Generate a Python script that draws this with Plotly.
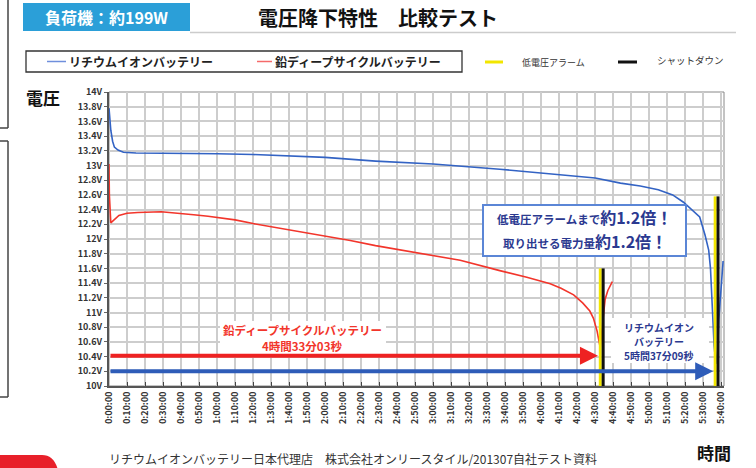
import plotly.graph_objects as go

# ---------------- data ----------------
# Lithium-ion battery voltage (time in minutes, volts)
li_t = [0, 0.5, 1, 2, 3, 5, 8, 15, 30, 60, 80, 100, 120, 148, 180, 217, 240, 260, 270,
        284, 295, 305, 313, 319, 324.5, 328, 331, 333, 334, 335, 336, 337, 338, 338.6,
        339.4, 340.2, 341]
li_v = [13.78, 13.62, 13.48, 13.33, 13.25, 13.21, 13.18, 13.17, 13.17, 13.16, 13.15, 13.13,
        13.11, 13.06, 13.02, 12.95, 12.90, 12.86, 12.83, 12.76, 12.72, 12.67, 12.60, 12.50,
        12.38, 12.30, 12.05, 11.85, 11.60, 11.00, 10.55, 10.30, 10.50, 10.90, 11.15, 11.45, 11.70]

# Lead deep-cycle battery voltage
pb_t = [0, 0.2, 1, 3, 5.5, 10, 16, 29, 40, 47, 55, 62, 70, 80, 92, 106, 120, 134, 148, 162,
        180, 195, 217, 232, 245, 251, 258, 263, 267, 269, 271, 272, 272.8, 274.5, 275.5, 277, 279.5]
pb_v = [13.02, 12.60, 12.22, 12.27, 12.32, 12.35, 12.36, 12.37, 12.35, 12.33, 12.31, 12.29,
        12.26, 12.21, 12.16, 12.10, 12.04, 11.98, 11.91, 11.85, 11.77, 11.71, 11.57, 11.48,
        11.39, 11.33, 11.24, 11.13, 11.02, 10.92, 10.75, 10.62, 10.52, 10.95, 11.18, 11.30, 11.42]

# Low-voltage alarm / shutdown marker times (minutes) and their top voltage
alarm_t = [272.8, 336.6]
shutdown_t = [274.4, 338.2]
marker_top = [11.6, 12.58]

# Run-time arrows (end minute, voltage level)
pb_arrow = (271.5, 10.41)
li_arrow = (335.5, 10.20)

x_tickvals = [0, 10, 20, 30, 40, 50, 60, 70, 80, 90, 100, 110, 120, 130, 140, 150, 160, 170,
              180, 190, 200, 210, 220, 230, 240, 250, 260, 270, 280, 290, 300, 310, 320, 330, 340]
x_ticktext = ["0:00:00", "0:10:00", "0:20:00", "0:30:00", "0:40:00", "0:50:00",
              "1:00:00", "1:10:00", "1:20:00", "1:30:00", "1:40:00", "1:50:00",
              "2:00:00", "2:10:00", "2:20:00", "2:30:00", "2:40:00", "2:50:00",
              "3:00:00", "3:10:00", "3:20:00", "3:30:00", "3:40:00", "3:50:00",
              "4:00:00", "4:10:00", "4:20:00", "4:30:00", "4:40:00", "4:50:00",
              "5:00:00", "5:10:00", "5:20:00", "5:30:00", "5:40:00"]
y_tickvals = [10, 10.2, 10.4, 10.6, 10.8, 11, 11.2, 11.4, 11.6, 11.8, 12, 12.2, 12.4, 12.6,
              12.8, 13, 13.2, 13.4, 13.6, 13.8, 14]
y_ticktext = ["10V", "10.2V", "10.4V", "10.6V", "10.8V", "11V", "11.2V", "11.4V", "11.6V",
              "11.8V", "12V", "12.2V", "12.4V", "12.6V", "12.8V", "13V", "13.2V", "13.4V",
              "13.6V", "13.8V", "14V"]

# ---------------- styling ----------------
FONT = "Noto Sans CJK JP"
BLUE = "#3363c4"
RED = "#f2352b"
NAVY = "#2b3990"
W, H = 756, 468
L, R, T, B = 109, 32, 92, 82
PW, PH = W - L - R, H - T - B


def px(x):
    return (x - L) / PW


def py(y):
    return (H - B - y) / PH


fig = go.Figure()

fig.add_trace(go.Scatter(x=pb_t, y=pb_v, mode="lines", line=dict(color=RED, width=1.6),
                         name="鉛ディープサイクルバッテリー", showlegend=False))
fig.add_trace(go.Scatter(x=li_t, y=li_v, mode="lines", line=dict(color=BLUE, width=1.6),
                         name="リチウムイオンバッテリー", showlegend=False))

for t, top in zip(alarm_t, marker_top):
    fig.add_trace(go.Scatter(x=[t, t], y=[10, top], mode="lines",
                             line=dict(color="#f2e600", width=3), showlegend=False))
for t, top in zip(shutdown_t, marker_top):
    fig.add_trace(go.Scatter(x=[t, t], y=[10, top], mode="lines",
                             line=dict(color="#111111", width=3), showlegend=False))

shapes = []
annotations = []


def text(x, y, s, size, color="#222", weight="normal", xanchor="center"):
    annotations.append(dict(xref="paper", yref="paper", x=px(x), y=py(y), text=s,
                            xanchor=xanchor, yanchor="middle", showarrow=False,
                            font=dict(family=FONT, size=size, color=color, weight=weight)))


def rect(x0, y0, x1, y1, fill=None, line=None, lw=0, layer="above"):
    shapes.append(dict(type="rect", xref="paper", yref="paper", x0=px(x0), x1=px(x1),
                       y0=py(y1), y1=py(y0), fillcolor=fill if fill else "rgba(0,0,0,0)",
                       line=dict(color=line if line else "rgba(0,0,0,0)", width=lw), layer=layer))


def hline(x0, x1, y, color, width):
    shapes.append(dict(type="line", xref="paper", yref="paper", x0=px(x0), x1=px(x1),
                       y0=py(y), y1=py(y), line=dict(color=color, width=width)))


# header blue box + title
rect(23, 3, 190, 31, fill="#2b9fd8")
text(106, 17, "負荷機：約199W", 16, "white", "bold")
text(378, 17, "電圧降下特性　比較テスト", 20, "#111", "bold")
hline(190, 736, 32.5, "#cccccc", 1.5)

# legend box
rect(26, 51, 462, 72, fill="white", line="#333", lw=1.3)
hline(47, 66, 61.5, "#6f8fdc", 1.5)
text(67, 61.5, "リチウムイオンバッテリー", 12, "#222", "bold", "left")
hline(257, 272, 61.5, "#f56a6a", 1.5)
text(273, 61.5, "鉛ディープサイクルバッテリー", 12, "#222", "bold", "left")
hline(485, 503, 62, "#f2e600", 3)
text(520, 62, "低電圧アラーム", 9, "#333", "normal", "left")
hline(618, 637, 62, "#111", 3)
text(655, 60, "シャットダウン", 9.5, "#333", "normal", "left")

# axis titles and footer
text(24, 97, "電圧", 17, "#111", "bold", "left")
text(714, 452, "時間", 17, "#111", "bold")
text(107, 458, "リチウムイオンバッテリー日本代理店　株式会社オンリースタイル/201307自社テスト資料",
     12, "#333", "normal", "left")

# left page fragments
for (x0, y0, x1, y1) in [(8, 0, 8, 128), (0, 128, 8, 128), (8, 141, 8, 397), (0, 141, 8, 141), (0, 397, 8, 397)]:
    shapes.append(dict(type="line", xref="paper", yref="paper", x0=px(x0), x1=px(x1),
                       y0=py(y0), y1=py(y1), line=dict(color="#444", width=1.5)))
# red corner shape bottom-left
path = "M {a},{b} L {c},{b} Q {d},{b} {e},{f} L {a},{f} Z".format(
    a=px(0), b=py(455), c=px(42), d=px(54), e=px(58), f=py(470))
shapes.append(dict(type="path", xref="paper", yref="paper", path=path,
                   fillcolor="#e8202a", line=dict(width=0)))

# comparison callout box
rect(483, 205, 686, 256, fill="white", line="#5b86d6", lw=2)
text(584.5, 217, '低電圧アラームまで<span style="font-size:16px">約1.2倍！</span>', 11.5, NAVY, "bold")
text(584.5, 241, '取り出せる電力量<span style="font-size:16px">約1.2倍！</span>', 11.5, NAVY, "bold")

# lead label
rect(220, 321, 386, 355, fill="white")
text(302, 330, "鉛ディープサイクルバッテリー", 11.5, RED, "bold")
text(302, 346, "4時間33分03秒", 11.5, RED, "bold")
# lithium label
rect(611, 318, 709, 363, fill="white")
text(659, 327, "リチウムイオン", 10, NAVY, "bold")
text(659, 341, "バッテリー", 10, NAVY, "bold")
text(659, 355, "5時間37分09秒", 10, NAVY, "bold")

# arrows
annotations.append(dict(x=pb_arrow[0], y=pb_arrow[1], ax=0, ay=pb_arrow[1], xref="x", yref="y",
                        axref="x", ayref="y", text="", showarrow=True, arrowhead=2, arrowsize=0.9,
                        arrowwidth=4, arrowcolor="#ee2222"))
annotations.append(dict(x=li_arrow[0], y=li_arrow[1], ax=0, ay=li_arrow[1], xref="x", yref="y",
                        axref="x", ayref="y", text="", showarrow=True, arrowhead=2, arrowsize=0.9,
                        arrowwidth=4, arrowcolor="#2e5cb8"))

fig.update_layout(
    width=W, height=H,
    margin=dict(l=L, r=R, t=T, b=B, pad=0),
    paper_bgcolor="white", plot_bgcolor="white",
    showlegend=False,
    shapes=shapes, annotations=annotations,
    xaxis=dict(range=[0, 341.5], tickvals=x_tickvals, ticktext=x_ticktext, tickangle=-90,
               showgrid=True, gridcolor="#cdcdcd", gridwidth=1.5,
               ticks="inside", ticklen=4, tickwidth=1.3, tickcolor="#444",
               showline=True, linecolor="#555", linewidth=2, mirror=False, zeroline=False,
               tickfont=dict(family=FONT, size=9, color="#333", weight="bold")),
    yaxis=dict(range=[10, 14], tickvals=y_tickvals, ticktext=y_ticktext,
               showgrid=True, gridcolor="#cdcdcd", gridwidth=1.5,
               ticks="outside", ticklen=3, tickwidth=1, tickcolor="#666",
               showline=True, linecolor="#555", linewidth=2, zeroline=False,
               tickfont=dict(family=FONT, size=9, color="#333", weight="bold")),
)
# thin top/right frame
fig.add_shape(type="rect", xref="paper", yref="paper", x0=0, x1=1, y0=0, y1=1,
              line=dict(color="#888", width=1), layer="below")

fig.write_html("out.html", config={"displayModeBar": False},
               post_script="document.body.style.margin='0px';")
